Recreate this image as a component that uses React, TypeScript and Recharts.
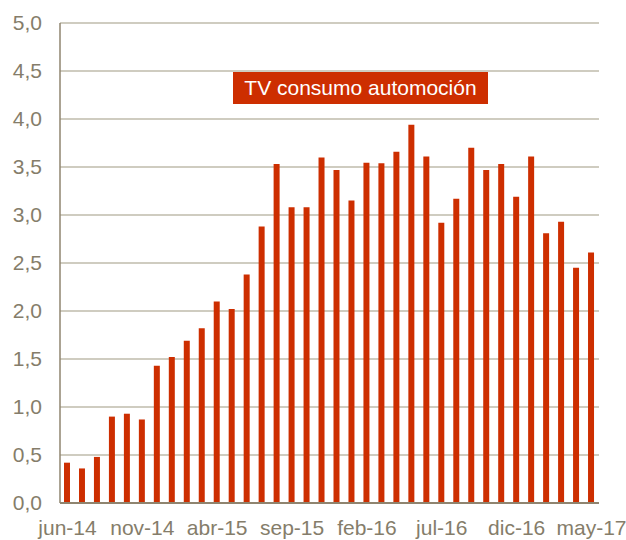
import { BarChart, Bar, CartesianGrid, XAxis, YAxis } from "recharts";

const meses = [
  "jun-14", "jul-14", "ago-14", "sep-14", "oct-14", "nov-14", "dic-14",
  "ene-15", "feb-15", "mar-15", "abr-15", "may-15", "jun-15", "jul-15", "ago-15", "sep-15", "oct-15", "nov-15", "dic-15",
  "ene-16", "feb-16", "mar-16", "abr-16", "may-16", "jun-16", "jul-16", "ago-16", "sep-16", "oct-16", "nov-16", "dic-16",
  "ene-17", "feb-17", "mar-17", "abr-17", "may-17",
];
const valores = [
  0.42, 0.36, 0.48, 0.9, 0.93, 0.87, 1.43,
  1.52, 1.69, 1.82, 2.1, 2.02, 2.38, 2.88, 3.53, 3.08, 3.08, 3.6, 3.47,
  3.15, 3.545, 3.54, 3.66, 3.94, 3.61, 2.92, 3.17, 3.7, 3.47, 3.53, 3.19,
  3.61, 2.81, 2.93, 2.45, 2.61,
];
const ticksY = [0, 0.5, 1, 1.5, 2, 2.5, 3, 3.5, 4, 4.5, 5];
const titulo = "TV consumo automoción";

export default function App() {
  const dados = meses.map((m, i) => ({ mes: m, valor: valores[i] }));
  const fuente = "'Liberation Sans', Arial, sans-serif";
  return (
    <div style={{ position: "absolute", left: 0, top: 0, width: 626, height: 540, fontFamily: fuente }}>
      <BarChart width={626} height={540} data={dados}
        margin={{ top: 23, right: 27, left: 0, bottom: 0 }}>
        <CartesianGrid vertical={false} stroke="#bfbbab" strokeWidth={1.3} />
        <XAxis dataKey="mes" interval={4} tickLine={false} tickSize={0} tickMargin={17} height={37}
          axisLine={{ stroke: "#8f846f", strokeWidth: 2 }}
          tick={{ fill: "#857d6a", fontSize: 21, fontFamily: fuente }} />
        <YAxis domain={[0, 5]} ticks={ticksY} tickLine={false} tickSize={0} tickMargin={18} width={60}
          axisLine={{ stroke: "#8f846f", strokeWidth: 1.5 }}
          tickFormatter={(v: number) => v.toFixed(1).replace(".", ",")}
          tick={{ fill: "#857d6a", fontSize: 21, fontFamily: fuente }} />
        <Bar dataKey="valor" fill="#cd2e00" barSize={6} isAnimationActive={false} />
      </BarChart>
      <div style={{
        position: "absolute", left: 233, top: 72, width: 255, height: 32,
        background: "#cd2e00", color: "#fff", fontSize: 21, lineHeight: "32px",
        textAlign: "center",
      }}>{titulo}</div>
    </div>
  );
}
